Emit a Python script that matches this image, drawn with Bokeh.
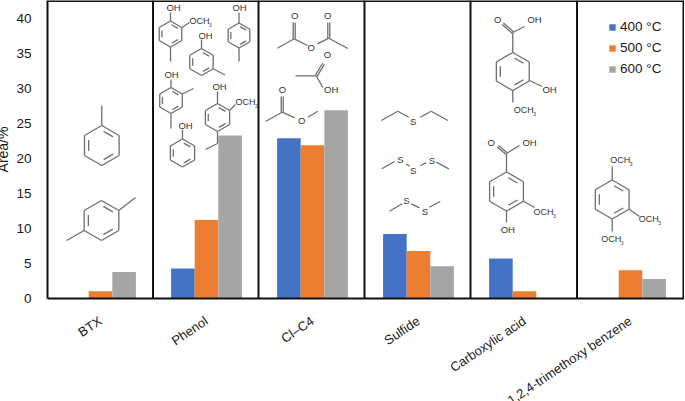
import math
from bokeh.plotting import figure
from bokeh.models import Range1d, FixedTicker, Legend, LegendItem, ColumnDataSource
from bokeh.core.properties import value
from bokeh.embed import file_html
from bokeh.resources import INLINE

categories = ["BTX", "Phenol", "Cl\u2013C4", "Sulfide", "Carboxylic acid", "1,2,4-trimethoxy benzene"]
series_names = ["400 \u00b0C", "500 \u00b0C", "600 \u00b0C"]
values_400 = [0, 4.3, 22.9, 9.2, 5.7, 0]
values_500 = [1.05, 11.2, 21.9, 6.8, 1.05, 4.05]
values_600 = [3.8, 23.3, 26.9, 4.6, 0, 2.8]
colors = ["#4472C4", "#ED7D31", "#A5A5A5"]
y_ticks = [0, 5, 10, 15, 20, 25, 30, 35, 40]

FONT = "Liberation Sans"
W, H = 685, 401
L, T, B = 48, 0, 298
UNIT = 106.0
BW = 23.6 / UNIT

p = figure(frame_width=W - L, frame_height=B - T, output_backend="svg", toolbar_location=None,
           x_range=Range1d(0, (W - L) / UNIT), y_range=Range1d(0, (B - T) / 7.0),
           min_border_left=L, min_border_right=0, min_border_top=T, min_border_bottom=H - B,
           margin=(0, 0, 0, -8))
p.outline_line_color = None
p.grid.visible = False
p.background_fill_color = "white"

# screen-pixel overlay for the drawn structures and frame
p.extra_x_ranges["px"] = Range1d(L, W)
p.extra_y_ranges["px"] = Range1d(B, T)
PX = dict(x_range_name="px", y_range_name="px")

# axes
xa = p.xaxis[0]
xa.ticker = FixedTicker(ticks=[i + 0.5 for i in range(len(categories))])
xa.major_label_overrides = {i + 0.5: c for i, c in enumerate(categories)}
xa.major_label_orientation = math.radians(34)
xa.major_label_text_font = FONT
xa.major_label_text_font_size = "13px"
xa.major_label_text_color = "#1a1a1a"
xa.major_label_standoff = 15
xa.major_tick_line_color = None
xa.minor_tick_line_color = None
xa.axis_line_color = "#111111"
xa.axis_line_width = 2

ya = p.yaxis[0]
ya.ticker = FixedTicker(ticks=y_ticks)
ya.major_label_text_font = FONT
ya.major_label_text_font_size = "13.5px"
ya.major_label_text_color = "#1a1a1a"
ya.major_label_standoff = 10
ya.major_tick_line_color = None
ya.minor_tick_line_color = None
ya.axis_line_color = "#111111"
ya.axis_line_width = 2
ya.axis_label = "Area/%"
ya.axis_label_text_font = FONT
ya.axis_label_text_font_style = "normal"
ya.axis_label_text_font_size = "14px"
ya.axis_label_text_color = "#1a1a1a"
ya.axis_label_standoff = 2

# bars
legend_items = []
for j, (name, vals) in enumerate(zip(series_names, [values_400, values_500, values_600])):
    xs = [i + 0.5 + (j - 1) * BW for i in range(len(categories))]
    src = ColumnDataSource(dict(x=xs, top=vals))
    r = p.vbar(x="x", top="top", width=BW, bottom=0, source=src, fill_color=colors[j], line_color=None)
    legend_items.append(LegendItem(label=name, renderers=[r]))

leg = Legend(items=legend_items, location=(561, 222), orientation="vertical",
             background_fill_alpha=0, border_line_color=None,
             glyph_width=8, glyph_height=8, spacing=6, padding=0, margin=0,
             label_text_font=FONT, label_text_font_size="13.5px", label_text_color="#1a1a1a",
             label_standoff=4, label_height=11)
p.add_layout(leg, "center")

# panel frame
dividers = [153.5, 259, 365, 471, 577.5, 684]
p.segment(dividers, [0] * 6, dividers, [B] * 6, line_color="#111111", line_width=2, **PX)
p.segment([L], [0.6], [W], [0.6], line_color="#111111", line_width=2, **PX)

# structure drawing helpers
segs = ([], [], [], [])
def bond(*pts):
    for a, b in zip(pts[:-1], pts[1:]):
        segs[0].append(a[0]); segs[1].append(a[1]); segs[2].append(b[0]); segs[3].append(b[1])

def double(a, b, off=2.0):
    dx, dy = b[0] - a[0], b[1] - a[1]
    n = math.hypot(dx, dy)
    ox, oy = -dy / n * off, dx / n * off
    bond((a[0] + ox / 2, a[1] + oy / 2), (b[0] + ox / 2, b[1] + oy / 2))
    bond((a[0] - ox / 2, a[1] - oy / 2), (b[0] - ox / 2, b[1] - oy / 2))

def ring(cx, cy, r, inner=(0, 2, 4)):
    v = [(cx + r * math.cos(math.radians(90 - 60 * k)), cy - r * math.sin(math.radians(90 - 60 * k))) for k in range(6)]
    for k in range(6):
        bond(v[k], v[(k + 1) % 6])
    for k in inner:
        a, b = v[k], v[(k + 1) % 6]
        f = 0.76
        ma = (cx + (a[0] - cx) * f, cy + (a[1] - cy) * f)
        mb = (cx + (b[0] - cx) * f, cy + (b[1] - cy) * f)
        s = 0.14
        bond((ma[0] + (mb[0] - ma[0]) * s, ma[1] + (mb[1] - ma[1]) * s),
             (mb[0] + (ma[0] - mb[0]) * s, mb[1] + (ma[1] - mb[1]) * s))

atoms = ([], [], [])
def atom(t, x, y):
    atoms[0].append(x); atoms[1].append(y); atoms[2].append(t)

ochs = ([], [], [])
subs = ([], [])
def och3(x, y):
    ochs[0].append(x); ochs[1].append(y); ochs[2].append("OCH")
    subs[0].append(x + 19.5); subs[1].append(y + 4)

# BTX
ring(102.3, 145, 20); bond((102.3, 125), (102.3, 105))
ring(102, 220, 20); bond((84.7, 230), (67, 240)); bond((119.3, 210), (136, 197))

# Phenol panel
ring(171, 33.5, 13); atom("OH", 174, 7); bond((171, 20.5), (171, 12)); och3(190, 20)
bond((182.3, 27), (190, 22)); bond((171, 46.5), (171, 61))
ring(239.5, 35, 12.5); atom("OH", 240, 7); bond((239.5, 22.5), (239.5, 12)); bond((239.5, 47.5), (239.5, 61))
ring(202, 61.5, 13.5); atom("OH", 206, 34.5); bond((202, 48), (202, 39)); bond((213.7, 68.2), (225.5, 74.5))
ring(171.5, 100, 13); atom("OH", 172, 74); bond((171.5, 87), (171.5, 79)); bond((182.8, 93.5), (194, 88)); bond((171.5, 113), (171.5, 128))
ring(183, 152.5, 14); atom("OH", 186, 124.5); bond((183, 138.5), (183, 129))
ring(218, 117, 14); atom("OH", 220, 86); bond((218, 103), (218, 91)); och3(236, 101)
bond((230, 110), (236, 104)); bond((218, 131), (218, 143), (206, 149))

# Cl-C4 panel
atom("O", 295.3, 15.3); atom("O", 328.3, 15.3); atom("O", 311.7, 47.3)
bond((278, 47.7), (294.7, 38.3), (308, 45)); double((294.7, 38.3), (294.7, 22))
bond((318, 43.3), (329.3, 37.7), (348.3, 48)); double((329.3, 37.7), (329.3, 22))
atom("O", 328, 54.3); atom("OH", 331.7, 89)
bond((296, 75.3), (316.7, 75.3), (323.3, 87)); double((316.7, 75.3), (324, 63.3))
atom("O", 283, 89.3); atom("O", 302.3, 120.3)
bond((266, 121), (282.7, 111.7), (295.3, 117.3)); double((282.7, 111.7), (282.7, 96))
bond((308.3, 116.7), (318.3, 110.7))

# Sulfide panel
bond((381.7, 120), (398.3, 110.7), (409.3, 116.7)); atom("S", 413.7, 120.7)
bond((420.7, 116.7), (431.7, 110.7), (448.3, 120))
bond((382.3, 168.3), (395, 161)); atom("S", 401, 159.3); bond((406.7, 163.3), (410, 165.7))
atom("S", 413.7, 169.7); bond((421, 165), (426.7, 162.3)); atom("S", 432.3, 159.7); bond((436.7, 161.7), (449.3, 168.3))
bond((390, 210.7), (402.7, 203.3)); atom("S", 407, 200); bond((411.7, 203.3), (420, 207.3))
atom("S", 425.3, 210.7); bond((430, 206.7), (440.7, 201))

# Carboxylic acid panel
ring(513.3, 71, 19)
bond((513.3, 52), (513.3, 32), (525, 26)); double((513.3, 32), (503.3, 23.3))
atom("O", 498.3, 19.3); atom("OH", 535, 19.3)
bond((530, 80), (542.7, 86)); atom("OH", 550, 89); bond((513.3, 90), (513.3, 102)); och3(514.3, 109)
ring(507, 191, 19.5)
bond((507, 171.5), (507, 153), (520, 145)); double((507, 153), (498.3, 145.7))
atom("O", 491.7, 141.7); atom("OH", 530, 141.7)
bond((523.9, 200.7), (535, 207)); och3(534, 211.3); bond((507, 210.5), (507, 222)); atom("OH", 508.3, 229.3)

# Trimethoxy panel
ring(612.7, 199, 19.5)
bond((612.7, 179.5), (612.7, 166)); och3(610.7, 159.3)
bond((629.6, 208.8), (640, 216)); och3(639.3, 218)
bond((612.7, 218.5), (612.7, 231)); och3(601.7, 238.3)

p.segment(segs[0], segs[1], segs[2], segs[3], line_color="#6e6e6e", line_width=1.3, **PX)
tf = dict(text_font=value(FONT), text_color="#333333", text_baseline="middle", **PX)
p.text(atoms[0], atoms[1], text=atoms[2], text_font_size="9.5px", text_align="center", **tf)
p.text(ochs[0], ochs[1], text=ochs[2], text_font_size="9px", text_align="left", **tf)
p.text(subs[0], subs[1], text=["3"] * len(subs[0]), text_font_size="5px", text_align="left", **tf)

open("out.html", "w").write(file_html(p, INLINE))
